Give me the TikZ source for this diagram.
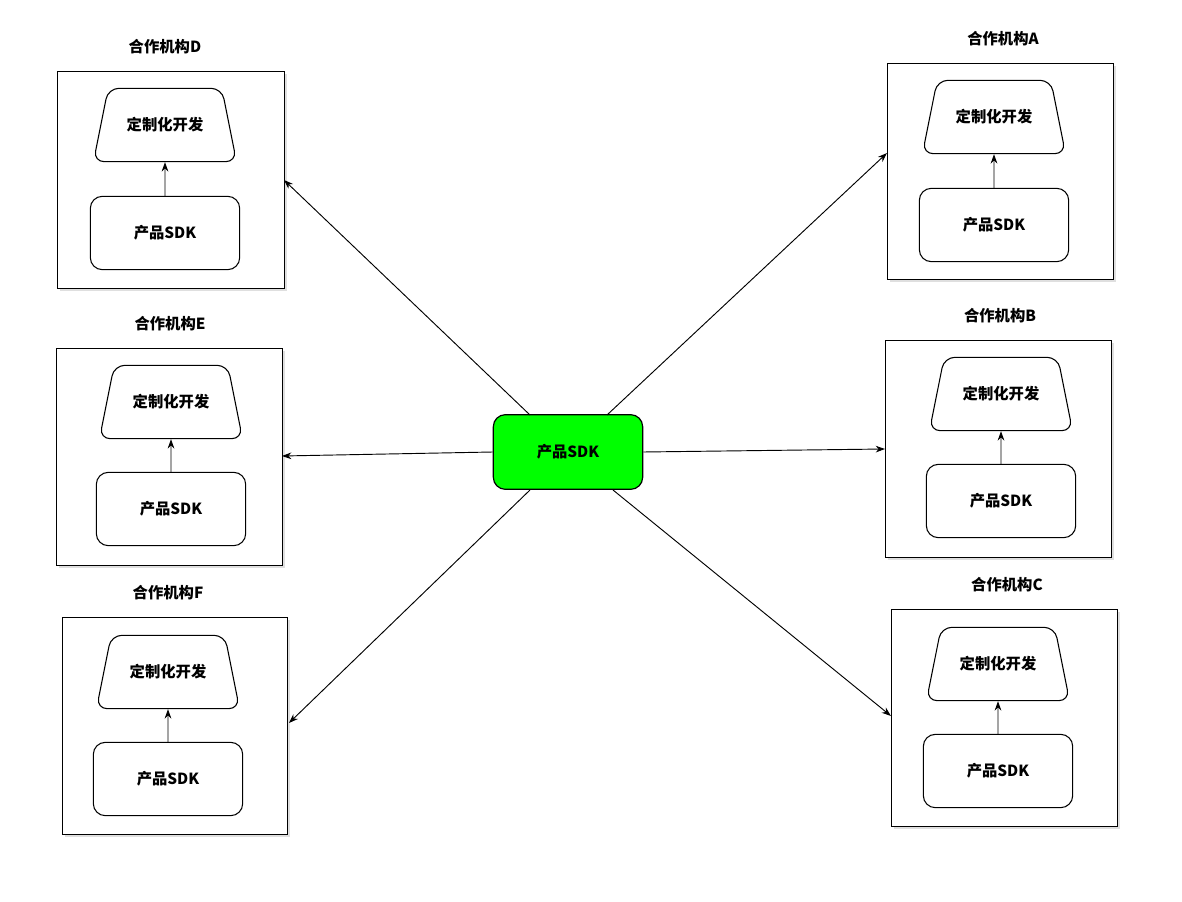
\documentclass[tikz,border=0pt]{standalone}
\usepackage{fontspec}
\setmainfont{Noto Sans CJK SC}
\usetikzlibrary{shapes.geometric,arrows.meta,shadows}
\begin{document}
\begin{tikzpicture}[x=0.75pt,y=-0.75pt,
  font=\fontsize{11.5}{13}\selectfont\bfseries,
  org/.style={draw,line width=0.9pt,fill=white,drop shadow={shadow xshift=2pt,shadow yshift=-2pt,opacity=0.25}},
  trap/.style={draw,trapezium,trapezium stretches=true,minimum width=108pt,minimum height=55pt,trapezium angle=65,rounded corners=8pt,line width=0.8pt},
  sdk/.style={draw,rounded corners=9pt,minimum width=112pt,minimum height=55pt,line width=0.8pt},
  arr/.style={-{Stealth[length=7pt,width=5pt]},line width=0.7pt}]
\useasboundingbox (0,0) rectangle (1182,902);
\newcommand\org[9]{%
  \node[org,anchor=north west,minimum width=#3*0.75pt-#1*0.75pt,minimum height=#4*0.75pt-#2*0.75pt] (box#9) at (#1,#2) {};
  \node (lab#9) at (#5,#2-24) {合作机构#9};
  \node[trap] (trap#9) at (#6,#7) {定制化开发};
  \node[sdk] (sdk#9) at (#6,#8) {产品SDK};
  \draw[arr] (sdk#9.north) -- (trap#9.south);
}
\org{57}{71}{284}{288}{165}{165}{125}{233}{D}
\org{56}{348}{282}{565}{170}{171}{402}{509}{E}
\org{62}{617}{287}{834}{168}{168}{672}{779}{F}
\org{887}{63}{1113}{279}{1003}{994}{117}{225}{A}
\org{885}{340}{1111}{557}{1000}{1001}{394}{501}{B}
\org{891}{609}{1117}{826}{1007}{998}{664}{771}{C}
\node[draw,fill={rgb,255:red,0;green,255;blue,0},rounded corners=9pt,minimum width=112pt,minimum height=56pt,line width=0.9pt] (core) at (568,452) {产品SDK};
\coordinate (eD) at (284,180);
\coordinate (eE) at (282,456);
\coordinate (eF) at (289,723);
\coordinate (eA) at (887,153);
\coordinate (eB) at (885,449);
\coordinate (eC) at (891,716);
\draw[arr] (530,415) -- (eD);
\draw[arr] (core.west) -- (eE);
\draw[arr] (530,490) -- (eF);
\draw[arr] (607,415) -- (eA);
\draw[arr] (core.east) -- (eB);
\draw[arr] (613,490) -- (eC);
\end{tikzpicture}
\end{document}
